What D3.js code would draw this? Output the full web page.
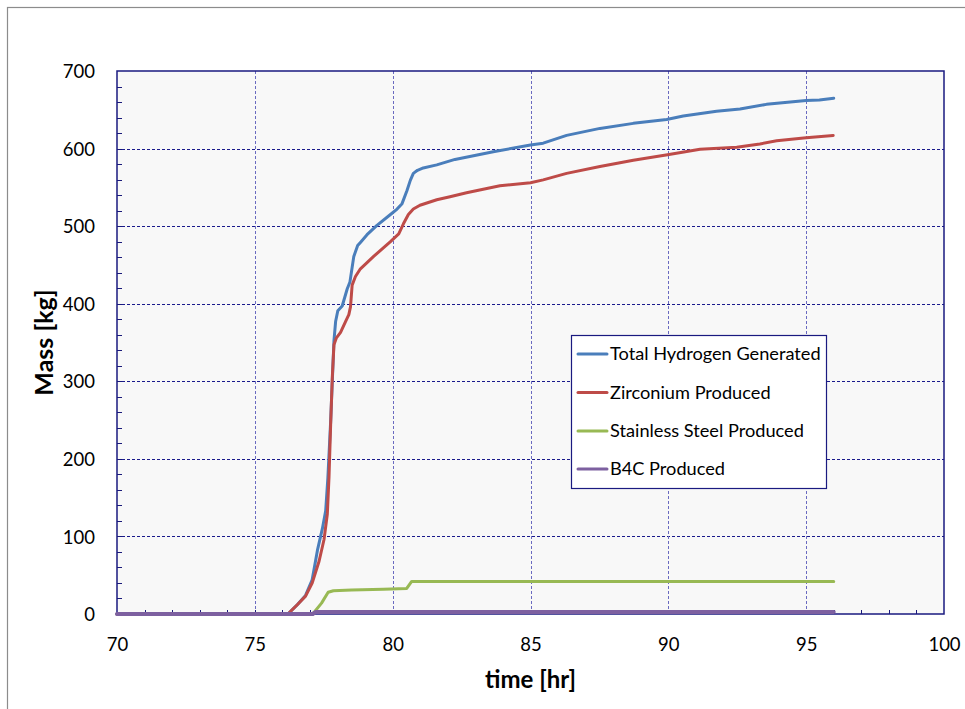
<!DOCTYPE html>
<html>
<head>
<meta charset="utf-8">
<script src="https://cdn.jsdelivr.net/npm/d3@7"></script>
<style>
  html, body { margin: 0; padding: 0; background: #ffffff; }
  svg { display: block; }
  text { font-family: Lato, "Open Sans", sans-serif; fill: #000; }
</style>
</head>
<body>
<svg id="chart" width="965" height="709"></svg>
<script>
// ---- Data ----
const xTicks = [70, 75, 80, 85, 90, 95, 100];
const yTicks = [0, 100, 200, 300, 400, 500, 600, 700];

const seriesNames = ["Total Hydrogen Generated", "Zirconium Produced", "Stainless Steel Produced", "B4C Produced"];
const seriesColors = ["#4A7EBB", "#BE4B48", "#98B954", "#7D60A0"];

const hydrogenTime = [70, 76.2, 76.54, 76.84, 77.08, 77.27, 77.45, 77.57, 77.65, 77.75, 77.81, 77.87, 77.93, 78.01, 78.17, 78.35, 78.45, 78.59, 78.73, 78.83, 79.07, 79.43, 79.92, 80.16, 80.34, 80.52, 80.64, 80.75, 80.9, 81.11, 81.6, 82.26, 83.65, 85.0, 85.46, 86.31, 87.52, 88.73, 89.94, 90.54, 91.75, 92.6, 93.56, 95.0, 95.48, 96.0];
const hydrogenMass = [0, 0, 12, 24, 44, 82, 110, 133, 176, 248, 300, 352, 377, 391, 397, 419, 428, 461, 475, 479, 489, 501, 515, 522, 529, 546, 559, 568, 572, 575, 579, 586, 596, 604.6, 607, 617, 626, 632.5, 637.5, 642, 648, 651, 657, 662, 662.5, 665];

const zirconiumTime = [70, 76.2, 76.54, 76.84, 77.08, 77.33, 77.51, 77.63, 77.69, 77.75, 77.81, 77.87, 77.96, 78.11, 78.29, 78.41, 78.47, 78.53, 78.65, 78.83, 79.31, 79.92, 80.22, 80.39, 80.57, 80.75, 80.99, 81.6, 82.08, 82.68, 83.89, 85.0, 85.46, 86.31, 87.52, 88.73, 89.97, 91.15, 92.48, 93.32, 93.93, 95.0, 95.98];
const zirconiumMass = [0, 0, 12, 23, 40, 68, 96, 129, 176, 244, 305, 347, 356, 363, 377, 386, 396, 424, 435, 445, 461, 480, 490, 503, 515, 522, 527, 534, 538, 543, 552, 556, 559.6, 568, 577, 585, 592, 599, 601.6, 606, 610, 614, 617];

const steelTime = [70, 77.1, 77.42, 77.66, 77.85, 78.51, 79.66, 80.51, 80.69, 96.0];
const steelMass = [0, 0, 14, 28, 30, 31, 32, 33, 42, 42];

const b4cTime = [70, 77.1, 77.2, 96.0];
const b4cMass = [0, 0, 2.5, 2.5];

const seriesTimes = [hydrogenTime, zirconiumTime, steelTime, b4cTime];
const seriesMasses = [hydrogenMass, zirconiumMass, steelMass, b4cMass];

// ---- Layout ----
const svg = d3.select("#chart");
const plot = { left: 117, top: 71, right: 944, bottom: 614 };

const x = d3.scaleLinear().domain([70, 100]).range([plot.left, plot.right]);
const y = d3.scaleLinear().domain([0, 700]).range([plot.bottom, plot.top]);

// outer figure border
svg.append("rect")
  .attr("x", 7.5).attr("y", 7.5)
  .attr("width", 1000).attr("height", 1000)
  .attr("fill", "none").attr("stroke", "#8c8c8c").attr("stroke-width", 1.2);

// plot background
svg.append("rect")
  .attr("x", plot.left).attr("y", plot.top)
  .attr("width", plot.right - plot.left).attr("height", plot.bottom - plot.top)
  .attr("fill", "#f8f8f8");

// horizontal gridlines
svg.append("g").selectAll("line")
  .data(yTicks.filter(d => d > 0 && d < 700))
  .join("line")
  .attr("x1", plot.left).attr("x2", plot.right)
  .attr("y1", d => Math.round(y(d)) + 0.5).attr("y2", d => Math.round(y(d)) + 0.5)
  .attr("stroke", "#1a1a8c").attr("stroke-width", 1)
  .attr("stroke-dasharray", "3,2");

// vertical gridlines
svg.append("g").selectAll("line")
  .data(xTicks.filter(d => d > 70 && d < 100))
  .join("line")
  .attr("x1", d => Math.round(x(d)) + 0.5).attr("x2", d => Math.round(x(d)) + 0.5)
  .attr("y1", plot.top).attr("y2", plot.bottom)
  .attr("stroke", "#6a6ac0").attr("stroke-width", 1)
  .attr("stroke-dasharray", "3,2");

// minor ticks (inside)
const xMinor = d3.range(71, 100, 1);
svg.append("g").selectAll("line")
  .data(xMinor)
  .join("line")
  .attr("x1", d => Math.round(x(d)) + 0.5).attr("x2", d => Math.round(x(d)) + 0.5)
  .attr("y1", plot.bottom).attr("y2", plot.bottom - 4)
  .attr("stroke", "#1a1a7a").attr("stroke-width", 1);

const yMinor = d3.range(20, 700, 20);
svg.append("g").selectAll("line")
  .data(yMinor)
  .join("line")
  .attr("x1", plot.left).attr("x2", plot.left + 5)
  .attr("y1", d => Math.round(y(d)) + 0.5).attr("y2", d => Math.round(y(d)) + 0.5)
  .attr("stroke", "#1a1a7a").attr("stroke-width", 1);

// plot border
svg.append("rect")
  .attr("x", plot.left).attr("y", plot.top)
  .attr("width", plot.right - plot.left).attr("height", plot.bottom - plot.top)
  .attr("fill", "none").attr("stroke", "#1a1a80").attr("stroke-width", 1.5);

// axes (labels only; lines drawn as border)
const xAxis = d3.axisBottom(x).tickValues(xTicks).tickSize(0).tickPadding(0).tickFormat(d3.format("d"));
const gx = svg.append("g").attr("transform", `translate(0,${plot.bottom})`).call(xAxis);
gx.select(".domain").remove();
gx.selectAll("text")
  .attr("dy", null).attr("y", 37)
  .style("font-family", "Lato, sans-serif").style("font-size", "18.5px").attr("fill", "#000");

const yAxis = d3.axisLeft(y).tickValues(yTicks).tickSize(0).tickPadding(0).tickFormat(d3.format("d"));
const gy = svg.append("g").attr("transform", `translate(${plot.left},0)`).call(yAxis);
gy.select(".domain").remove();
gy.selectAll("text")
  .attr("x", -22).attr("dy", "0.36em")
  .style("font-family", "Lato, sans-serif").style("font-size", "18.5px").attr("fill", "#000");

// axis titles
svg.append("text")
  .attr("x", (plot.left + plot.right) / 2).attr("y", 688)
  .attr("text-anchor", "middle")
  .style("font-size", "24px").style("font-weight", "bold")
  .text("time [hr]");

svg.append("text")
  .attr("transform", `translate(53,${(plot.top + plot.bottom) / 2}) rotate(-90)`)
  .attr("text-anchor", "middle")
  .style("font-size", "25px").style("font-weight", "bold")
  .text("Mass [kg]");

// series lines
const line = d3.line().x(d => x(d[0])).y(d => y(d[1]));
const linesG = svg.append("g");
seriesNames.forEach((name, i) => {
  const pts = seriesTimes[i].map((t, j) => [t, seriesMasses[i][j]]);
  linesG.append("path")
    .datum(pts)
    .attr("d", line)
    .attr("fill", "none")
    .attr("stroke", seriesColors[i])
    .attr("stroke-width", i === 3 ? 4 : 3)
    .attr("stroke-linejoin", "round")
    .attr("stroke-linecap", "round");
});

// legend
const legend = svg.append("g");
legend.append("rect")
  .attr("x", 571.5).attr("y", 335.5)
  .attr("width", 255).attr("height", 153)
  .attr("fill", "#ffffff").attr("stroke", "#1a1a80").attr("stroke-width", 1.2);
const legendRowsY = [354, 392.5, 431, 469];
seriesNames.forEach((name, i) => {
  legend.append("line")
    .attr("x1", 578).attr("x2", 607)
    .attr("y1", legendRowsY[i]).attr("y2", legendRowsY[i])
    .attr("stroke", seriesColors[i]).attr("stroke-width", 3)
    .attr("stroke-linecap", "round");
  legend.append("text")
    .attr("x", 610).attr("y", legendRowsY[i]).attr("dy", "0.35em")
    .style("font-size", "18.2px")
    .text(name);
});
</script>
</body>
</html>
